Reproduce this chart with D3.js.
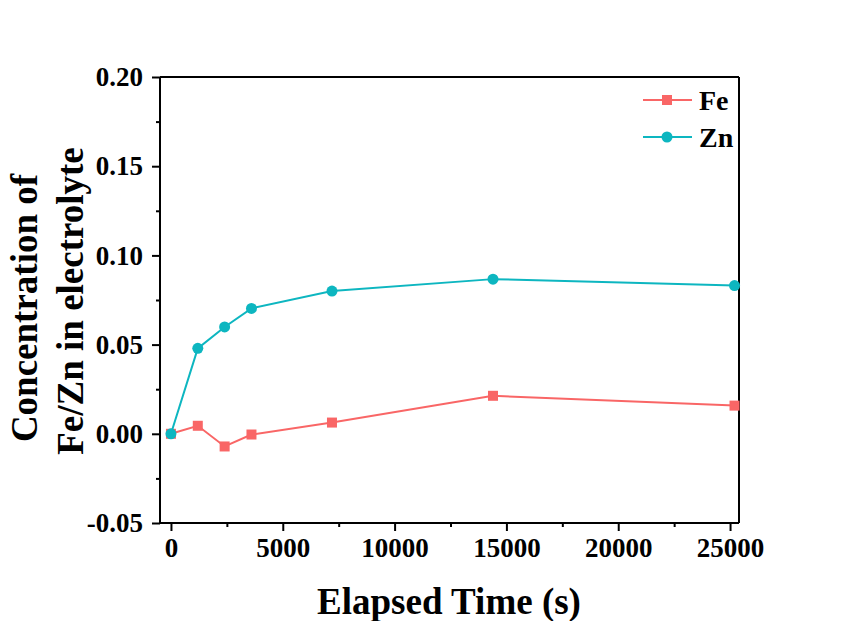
<!DOCTYPE html>
<html>
<head>
<meta charset="utf-8">
<script src="https://cdn.jsdelivr.net/npm/d3@7"></script>
<style>
  html, body { margin: 0; padding: 0; background: #ffffff; }
  svg { display: block; }
  text { font-family: "Liberation Serif", "Times New Roman", serif; font-weight: bold; fill: #000; }
</style>
</head>
<body>
<svg id="chart" width="845" height="621"></svg>
<script>
// Elapsed time (s) of each sample
const times = [0, 1200, 2400, 3600, 7200, 14400, 25200];
// Concentrations in the electrolyte
const feValues = [0, 0.0045, -0.0071, -0.0004, 0.0063, 0.0213, 0.0158];
const znValues = [0, 0.0479, 0.0599, 0.0703, 0.0800, 0.0867, 0.0831];

const xTicks = [0, 5000, 10000, 15000, 20000, 25000];
const yTicks = [-0.05, 0, 0.05, 0.10, 0.15, 0.20];

const seriesNames = ["Fe", "Zn"];
const seriesColors = ["#F96666", "#0DB6C0"];

const svg = d3.select("#chart");
const W = 845, H = 621;
svg.append("rect").attr("width", W).attr("height", H).attr("fill", "#ffffff");

const plotL = 160, plotR = 739, plotT = 77, plotB = 523;

const x = d3.scaleLinear().domain([-490, 25400]).range([plotL, plotR]);
const y = d3.scaleLinear().domain([-0.05, 0.20]).range([plotB, plotT]);

// minor ticks halfway between majors
const xMinor = d3.range(2500, 25400, 5000);
const yMinor = d3.range(-0.025, 0.2, 0.05);

const g = svg.append("g");

// frame: top and right edges
g.append("line").attr("x1", plotL).attr("x2", plotR).attr("y1", plotT).attr("y2", plotT)
  .attr("stroke", "#000").attr("stroke-width", 2);
g.append("line").attr("x1", plotR).attr("x2", plotR).attr("y1", plotT).attr("y2", plotB)
  .attr("stroke", "#000").attr("stroke-width", 2);

// bottom axis
const xAxis = d3.axisBottom(x).tickValues(xTicks).tickSize(8).tickPadding(7).tickFormat(d3.format("d"));
const gx = g.append("g").attr("transform", `translate(0,${plotB})`).call(xAxis);
gx.select(".domain").attr("d", `M${plotL},0H${plotR}`).attr("stroke-width", 2);
gx.selectAll(".tick line").attr("stroke-width", 2);
gx.selectAll(".tick text").attr("font-size", 27);
const gxm = g.append("g").attr("transform", `translate(0,${plotB})`)
  .call(d3.axisBottom(x).tickValues(xMinor).tickSize(4).tickFormat(""));
gxm.select(".domain").remove();
gxm.selectAll(".tick line").attr("stroke-width", 2);

// left axis, plain hyphen for negative values
const fmtY = d => d3.format(".2f")(d).replace("\u2212", "-");
const yAxis = d3.axisLeft(y).tickValues(yTicks).tickSize(8).tickPadding(9).tickFormat(fmtY);
const gy = g.append("g").attr("transform", `translate(${plotL},0)`).call(yAxis);
gy.select(".domain").attr("d", `M0,${plotT}V${plotB}`).attr("stroke-width", 2);
gy.selectAll(".tick line").attr("stroke-width", 2);
gy.selectAll(".tick text").attr("font-size", 27);
const gym = g.append("g").attr("transform", `translate(${plotL},0)`)
  .call(d3.axisLeft(y).tickValues(yMinor).tickSize(4).tickFormat(""));
gym.select(".domain").remove();
gym.selectAll(".tick line").attr("stroke-width", 2);

// axis titles
svg.append("text").attr("x", 449).attr("y", 614).attr("text-anchor", "middle")
  .attr("font-size", 37).text("Elapsed Time (s)");
svg.append("text").attr("transform", "translate(37,308) rotate(-90)").attr("text-anchor", "middle")
  .attr("font-size", 37).text("Concentration of");
svg.append("text").attr("transform", "translate(83,301) rotate(-90)").attr("text-anchor", "middle")
  .attr("font-size", 37).text("Fe/Zn in electrolyte");

// series
const line = d3.line().x(d => x(d[0])).y(d => y(d[1]));
const series = [feValues, znValues].map(vals => times.map((t, i) => [t, vals[i]]));

series.forEach((pts, s) => {
  const col = seriesColors[s];
  svg.append("path").datum(pts).attr("d", line).attr("fill", "none")
    .attr("stroke", col).attr("stroke-width", 2);
  if (s === 0) {
    svg.selectAll(null).data(pts).enter().append("rect")
      .attr("x", d => x(d[0]) - 5).attr("y", d => y(d[1]) - 5)
      .attr("width", 10).attr("height", 10).attr("fill", col);
  } else {
    svg.selectAll(null).data(pts).enter().append("circle")
      .attr("cx", d => x(d[0])).attr("cy", d => y(d[1])).attr("r", 5.5).attr("fill", col);
  }
});

// legend
const legendY = [100, 137];
seriesNames.forEach((name, i) => {
  const col = seriesColors[i];
  const ly = legendY[i];
  svg.append("line").attr("x1", 643).attr("x2", 692).attr("y1", ly).attr("y2", ly)
    .attr("stroke", col).attr("stroke-width", 2);
  if (i === 0) {
    svg.append("rect").attr("x", 662).attr("y", ly - 5).attr("width", 10).attr("height", 10).attr("fill", col);
  } else {
    svg.append("circle").attr("cx", 667).attr("cy", ly).attr("r", 5.5).attr("fill", col);
  }
  svg.append("text").attr("x", 699).attr("y", ly + 10).attr("font-size", 28).text(name);
});
</script>
</body>
</html>
